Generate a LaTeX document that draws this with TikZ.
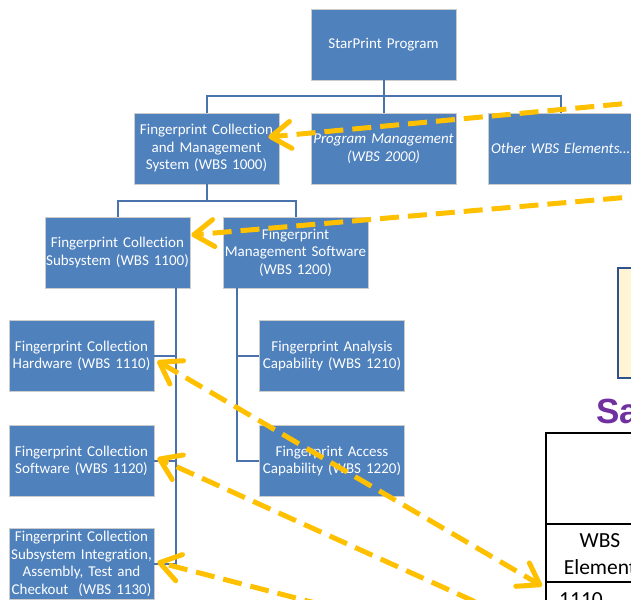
\documentclass[tikz,border=0pt]{standalone}
\usepackage{fontspec}
\setmainfont{Carlito}[Ligatures={NoCommon,NoContextual}]
\newfontfamily\headfont{Liberation Sans}
\usetikzlibrary{arrows.meta,calc}
\definecolor{wbsblue}{HTML}{4F81BD}
\definecolor{wbsline}{HTML}{4A72AC}
\definecolor{hilite}{HTML}{FFC000}
\definecolor{notefill}{HTML}{FFF5D5}
\definecolor{noteedge}{HTML}{2F528F}
\definecolor{titlepurple}{HTML}{7030A0}
\tikzset{
  wbs/.style={rectangle, fill=wbsblue, draw=white!80!black, line width=0.6pt,
    text=white, align=center, text width=143pt, minimum height=71pt,
    inner sep=1pt, font=\fontsize{15}{17.5}\selectfont},
  conn/.style={draw=wbsline, line width=2pt},
  barb/.tip={Straight Barb[length=20pt,width=27pt,round]},
  trace/.style={draw=hilite, line width=5pt, dash pattern=on 19pt off 9pt},
  grid/.style={draw=black, line width=2pt},
  cell/.style={font=\fontsize{21.5}{27}\selectfont, inner sep=0pt}
}
\begin{document}
\begin{tikzpicture}[x=1pt, y=-1pt]
\useasboundingbox (0,0) rectangle (631,599);
\clip (0,0) rectangle (631,599);

% WBS tree
\node[wbs] (sp)    at (383.5, 44.5) {StarPrint Program};
\node[wbs] (fcms)  at (206.5,148.5) {Fingerprint Collection\\and Management\\System (WBS 1000)};
\node[wbs] (pm)    at (383.5,148.5) {\itshape Program Management\\\itshape (WBS 2000)};
\node[wbs] (other) at (560.5,148.5) {\itshape Other WBS Elements…};
\node[wbs] (fcs)   at (117.5,252.5) {Fingerprint Collection\\Subsystem (WBS 1100)};
\node[wbs] (fms)   at (295.5,252.5) {Fingerprint\\Management Software\\(WBS 1200)};
\node[wbs] (hw)    at (81.5,356)    {Fingerprint Collection\\Hardware (WBS 1110)};
\node[wbs] (sw)    at (81.5,461)    {Fingerprint Collection\\Software (WBS 1120)};
\node[wbs] (it)    at (81.5,564)    {Fingerprint Collection\\Subsystem Integration,\\Assembly, Test and\\Checkout\ \ (WBS 1130)};
\node[wbs] (ana)   at (332,356)     {Fingerprint Analysis\\Capability (WBS 1210)};
\node[wbs] (acc)   at (332,461)     {Fingerprint Access\\Capability (WBS 1220)};

% tree connectors
\coordinate (j0) at ($(sp.south)+(0,16)$);
\coordinate (j1) at ($(fcms.south)+(0,17)$);
\coordinate (t1) at ($(fcs.south east)+(-14,0)$);
\coordinate (t2) at ($(fms.south west)+(14,0)$);
\draw[conn] (sp.south) -- (j0);
\draw[conn] (fcms.north) |- (j0) -| (other.north);
\draw[conn] (j0) -- (pm.north);
\draw[conn] (fcms.south) -- (j1);
\draw[conn] (fcs.north) |- (j1) -| (fms.north);
\draw[conn] (t1) |- (it.east);
\draw[conn] (hw.east) -- (hw.east -| t1);
\draw[conn] (sw.east) -- (sw.east -| t1);
\draw[conn] (t2) |- (acc.west);
\draw[conn] (ana.west) -- (ana.west -| t2);

% note box
\node[rectangle, fill=notefill, draw=noteedge, line width=2pt, anchor=north west,
      minimum width=70pt, minimum height=110pt, inner sep=0pt] (note) at (617,267) {};

% title fragment
\node[anchor=base west, inner sep=0pt, text=titlepurple,
      font=\headfont\bfseries\fontsize{35}{40}\selectfont] (title) at (596,423) {Sa};

% table
\coordinate (tl) at (546,433);
\coordinate (r1) at (546,524);
\coordinate (cell1110) at (546,582);
\draw[grid] (650,433) -- (tl) -- (546,610);
\draw[grid] (r1) -- (650,524);
\draw[grid] (cell1110) -- (650,582);
\node[cell, anchor=base] (wbsA) at (600,547) {WBS};
\node[cell, anchor=base] (wbsB) at (600,574) {Element};
\node[cell, anchor=base west] (row1) at (559,606) {1110};

% highlight traces
\coordinate (feedA) at (650,101.2);
\coordinate (feedB) at (650,195.3);
\coordinate (feedC) at (500,613);
\coordinate (feedD) at (350,612);
\draw[trace, -{barb}] (feedA) -- ($(fcms.east)+(-11,-11.5)$);
\draw[trace, -{barb}] (feedB) -- ($(fcs.east)+(1,-17.5)$);
\draw[trace, {barb}-{barb}] ($(hw.east)+(3,5)$) -- ($(cell1110)+(-4,4)$);
\draw[trace, -{barb}] (feedC) -- ($(sw.east)+(3,-3)$);
\draw[trace, -{barb}] (feedD) -- ($(it.east)+(3,-2)$);
\end{tikzpicture}
\end{document}
